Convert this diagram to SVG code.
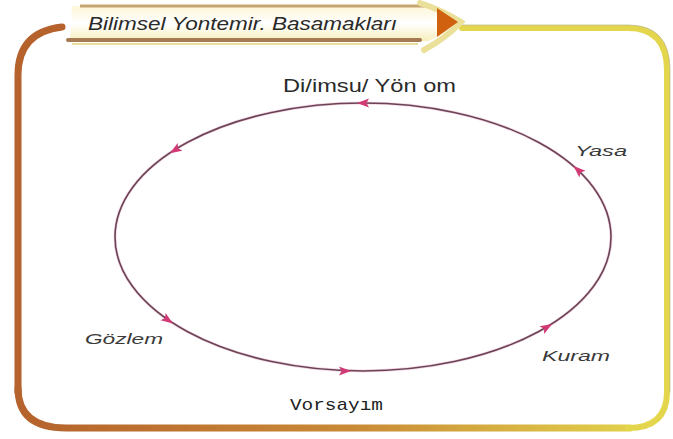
<svg xmlns="http://www.w3.org/2000/svg" width="673" height="439" viewBox="0 0 673 439">
  <defs>
    <linearGradient id="gBottom" x1="0" y1="0" x2="1" y2="0">
      <stop offset="0" stop-color="#b5622c"/>
      <stop offset="0.55" stop-color="#c98a36"/>
      <stop offset="1" stop-color="#e2d04a"/>
    </linearGradient>
    <linearGradient id="gBanner" x1="0" y1="0" x2="0" y2="1">
      <stop offset="0" stop-color="#fdf6d8"/>
      <stop offset="0.5" stop-color="#ffffff"/>
      <stop offset="1" stop-color="#f6eebc"/>
    </linearGradient>
    <path id="ah" d="M6,0 L-6,-4.5 L-3.5,0 L-6,4.5 Z"/>
  </defs>
  <style>
    .lbl { font-family: "Liberation Sans", Arial, sans-serif; fill: #2a2a2a; }
    .hand { font-style: italic; font-size: 15px; fill: #3a3a3a; }
    .arrow { fill: #d23a76; }
    .frame { fill: none; stroke-linecap: round; }
  </style>
  <rect width="673" height="439" fill="#ffffff"/>

  <g id="frame">
    <path class="frame" d="M18,392 L18,75 Q18,32 62,27" stroke="#b5622c" stroke-width="7"/>
    <path class="frame" d="M18,388 Q18,428 66,428 L630,428" stroke="url(#gBottom)" stroke-width="7"/>
    <path class="frame" d="M628,428 Q667,428 667,392 L667,70 Q667,28 628,28 L462,28" stroke="#e4d64c" stroke-width="6"/>
    <path class="frame" d="M462,25 L628,25 Q670,25 670,70 L670,392" stroke="#b9b48a" stroke-width="1" opacity="0.7"/>
  </g>

  <g id="banner">
    <path d="M72,6 L428,6 Q445,12 458,22 Q445,34 428,41 L70,41 Z" fill="url(#gBanner)"/>
    <path d="M80,6 L426,6" stroke="#c7a673" stroke-width="3" fill="none"/>
    <path d="M68,40 L420,40" stroke="#a47a52" stroke-width="4" fill="none" stroke-linecap="round"/>
    <path d="M72,44 L418,44" stroke="#eadf9a" stroke-width="2" fill="none"/>
    <path d="M420,3 Q442,10 461,22 Q446,38 424,50" stroke="#ebe09a" stroke-width="6" fill="none" stroke-linecap="round"/>
    <path d="M437,8 L458,22 L437,37 Z" fill="#d0620f"/>
    <text class="lbl" x="88" y="30" font-size="18" font-style="italic" fill="#1c1c40" textLength="309" lengthAdjust="spacingAndGlyphs">Bilimsel Yontemir. Basamakları</text>
  </g>

  <g id="connectors">
    <ellipse cx="363" cy="237" rx="248" ry="134" fill="none" stroke="#e6a6c4" stroke-width="3" opacity="0.45"/>
    <ellipse cx="363" cy="237" rx="248" ry="134" fill="none" stroke="#6a4456" stroke-width="1.6"/>
    <use href="#ah" class="arrow" transform="translate(363,103) rotate(180)"/>
    <use href="#ah" class="arrow" transform="translate(175,150) rotate(148)"/>
    <use href="#ah" class="arrow" transform="translate(168,320) rotate(34.5)"/>
    <use href="#ah" class="arrow" transform="translate(345,371) rotate(0)"/>
    <use href="#ah" class="arrow" transform="translate(547,327) rotate(-31)"/>
    <use href="#ah" class="arrow" transform="translate(578,170) rotate(-137)"/>
  </g>

  <g id="node-top">
    <text class="lbl" x="283" y="92" font-size="19" fill="#111" textLength="173" lengthAdjust="spacingAndGlyphs">Di/imsu/ Yön om</text>
  </g>
  <g id="node-yasa">
    <text class="lbl hand" x="575" y="156" textLength="52" lengthAdjust="spacingAndGlyphs">Yasa</text>
  </g>
  <g id="node-gozlem">
    <text class="lbl hand" x="85" y="344" textLength="78" lengthAdjust="spacingAndGlyphs">Gözlem</text>
  </g>
  <g id="node-kuram">
    <text class="lbl hand" x="542" y="361" textLength="68" lengthAdjust="spacingAndGlyphs">Kuram</text>
  </g>
  <g id="node-vorsayim">
    <text x="290" y="410" font-family="'Liberation Mono', 'Courier New', monospace" font-size="17" fill="#222" textLength="93" lengthAdjust="spacingAndGlyphs">Vorsayım</text>
  </g>
</svg>
